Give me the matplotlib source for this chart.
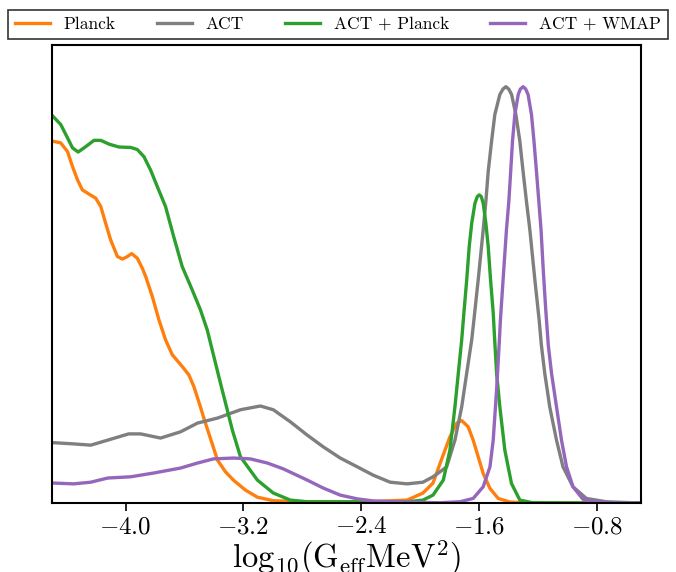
import numpy as np
import matplotlib
matplotlib.use("Agg")
import matplotlib.pyplot as plt

plt.rcParams['font.family'] = 'serif'
plt.rcParams['font.serif'] = ['cmr10']
plt.rcParams['mathtext.fontset'] = 'cm'
plt.rcParams['axes.formatter.use_mathtext'] = True

# Planck
planck_x = [-4.497, -4.441, -4.395, -4.361, -4.327, -4.294, -4.249, -4.203, -4.169, -4.136,
            -4.102, -4.056, -4.022, -3.993, -3.959, -3.921, -3.887, -3.864, -3.819, -3.774,
            -3.729, -3.683, -3.616, -3.571, -3.537, -3.492, -3.469, -3.376, -3.322, -3.268,
            -3.186, -3.105, -2.997, -2.766, -2.407, -2.088, -1.980, -1.912, -1.864, -1.797,
            -1.751, -1.717, -1.673, -1.639, -1.605, -1.571, -1.525, -1.469, -1.390, -1.254,
            -0.50]
planck_y = [0.869, 0.865, 0.844, 0.808, 0.776, 0.752, 0.742, 0.732, 0.712, 0.672,
            0.632, 0.592, 0.586, 0.591, 0.599, 0.588, 0.564, 0.544, 0.496, 0.440,
            0.392, 0.356, 0.328, 0.308, 0.280, 0.231, 0.204, 0.103, 0.075, 0.055,
            0.031, 0.014, 0.0055, 0.003, 0.0024, 0.007, 0.024, 0.048, 0.095, 0.159,
            0.192, 0.198, 0.183, 0.151, 0.111, 0.071, 0.035, 0.011, 0.0024, 0.0,
            0.0]

# ACT
act_x = [-4.495, -4.353, -4.237, -4.122, -3.980, -3.898, -3.763, -3.627, -3.512, -3.376,
         -3.220, -3.085, -2.997, -2.881, -2.766, -2.658, -2.542, -2.427, -2.319, -2.203,
         -2.088, -1.980, -1.912, -1.864, -1.819, -1.763, -1.717, -1.683, -1.649, -1.634,
         -1.605, -1.571, -1.553, -1.537, -1.514, -1.492, -1.458, -1.437, -1.417, -1.397,
         -1.378, -1.349, -1.322, -1.300, -1.277, -1.254, -1.220, -1.191, -1.176, -1.153,
         -1.119, -1.073, -1.029, -0.961, -0.870, -0.734, -0.556, -0.50]
act_y = [0.145, 0.142, 0.139, 0.151, 0.166, 0.166, 0.156, 0.171, 0.192, 0.204,
         0.224, 0.233, 0.224, 0.195, 0.163, 0.135, 0.108, 0.087, 0.067, 0.050,
         0.046, 0.050, 0.063, 0.075, 0.087, 0.151, 0.231, 0.312, 0.392, 0.440,
         0.536, 0.656, 0.724, 0.796, 0.869, 0.933, 0.981, 0.994, 1.000, 0.994,
         0.981, 0.933, 0.869, 0.796, 0.724, 0.656, 0.536, 0.440, 0.380, 0.312,
         0.231, 0.151, 0.087, 0.039, 0.011, 0.003, 0.0007, 0.0]

# ACT + Planck
actp_x = [-4.497, -4.441, -4.395, -4.361, -4.323, -4.271, -4.215, -4.169, -4.113, -4.045,
          -3.966, -3.921, -3.876, -3.831, -3.785, -3.729, -3.673, -3.616, -3.548, -3.492,
          -3.446, -3.401, -3.356, -3.315, -3.275, -3.220, -3.105, -2.997, -2.881, -2.766,
          -2.088, -1.980, -1.912, -1.842, -1.797, -1.763, -1.740, -1.717, -1.702, -1.683,
          -1.666, -1.649, -1.627, -1.611, -1.598, -1.584, -1.571, -1.553, -1.537, -1.521,
          -1.503, -1.493, -1.480, -1.458, -1.424, -1.379, -1.322, -1.234, -0.50]
actp_y = [0.930, 0.909, 0.877, 0.853, 0.843, 0.856, 0.871, 0.871, 0.862, 0.855,
          0.854, 0.849, 0.832, 0.800, 0.760, 0.712, 0.639, 0.568, 0.512, 0.464,
          0.416, 0.352, 0.288, 0.231, 0.175, 0.111, 0.055, 0.024, 0.007, 0.003,
          0.003, 0.007, 0.019, 0.055, 0.127, 0.231, 0.312, 0.392, 0.457, 0.536,
          0.616, 0.672, 0.720, 0.736, 0.740, 0.736, 0.720, 0.672, 0.616, 0.536,
          0.457, 0.392, 0.312, 0.231, 0.127, 0.047, 0.007, 0.0007, 0.0]

# ACT + WMAP
actw_x = [-4.495, -4.353, -4.237, -4.122, -3.966, -3.810, -3.627, -3.512, -3.403, -3.268,
          -3.153, -3.037, -2.929, -2.766, -2.658, -2.542, -2.427, -2.319, -2.088, -1.864,
          -1.729, -1.639, -1.571, -1.525, -1.503, -1.480, -1.462, -1.454, -1.436, -1.413,
          -1.397, -1.386, -1.372, -1.356, -1.333, -1.319, -1.300, -1.282, -1.266, -1.243,
          -1.226, -1.209, -1.193, -1.178, -1.163, -1.146, -1.129, -1.107, -1.073, -1.039,
          -1.005, -0.961, -0.893, -0.802, -0.644, -0.50]
actw_y = [0.048, 0.046, 0.050, 0.060, 0.063, 0.072, 0.084, 0.096, 0.106, 0.108,
          0.106, 0.096, 0.082, 0.055, 0.036, 0.019, 0.010, 0.005, 0.002, 0.0007,
          0.003, 0.011, 0.039, 0.087, 0.151, 0.272, 0.385, 0.440, 0.536, 0.656,
          0.724, 0.786, 0.869, 0.933, 0.981, 0.994, 1.000, 0.994, 0.981, 0.933,
          0.869, 0.796, 0.724, 0.656, 0.560, 0.464, 0.380, 0.312, 0.231, 0.151,
          0.087, 0.039, 0.009, 0.0024, 0.0, 0.0]

xticks = [-4.0, -3.2, -2.4, -1.6, -0.8]

fig = plt.figure(figsize=(6.76, 5.72), dpi=100)
ax = fig.add_axes([0.077, 0.1206, 0.871, 0.8007])

lw = 2.4
ax.plot(planck_x, planck_y, color='tab:orange', lw=lw, label='Planck', solid_joinstyle='round')
ax.plot(act_x, act_y, color='tab:gray', lw=lw, label='ACT', solid_joinstyle='round')
ax.plot(actp_x, actp_y, color='tab:green', lw=lw, label='ACT + Planck', solid_joinstyle='round')
ax.plot(actw_x, actw_y, color='tab:purple', lw=lw, label='ACT + WMAP', solid_joinstyle='round')

ax.set_xlim(-4.5, -0.5)
ax.set_ylim(0, 1.1)
ax.set_yticks([])
ax.set_xticks(xticks)
ax.tick_params(axis='x', labelsize=18, length=6, width=1.2)
for s in ax.spines.values():
    s.set_linewidth(1.5)
ax.set_xlabel(r'$\mathrm{log}_{10}(\mathrm{G}_{\mathrm{eff}}\mathrm{MeV}^2)$', fontsize=23.5, labelpad=0)

leg = fig.legend(loc='lower left', bbox_to_anchor=(0.0118, 0.932, 0.976, 0.059),
                 mode='expand', ncol=4, fontsize=12.5, frameon=True, fancybox=False,
                 edgecolor='black', borderaxespad=0, handlelength=2.0)
leg.get_frame().set_linewidth(1.2)

fig.savefig('out.png', dpi=100)
